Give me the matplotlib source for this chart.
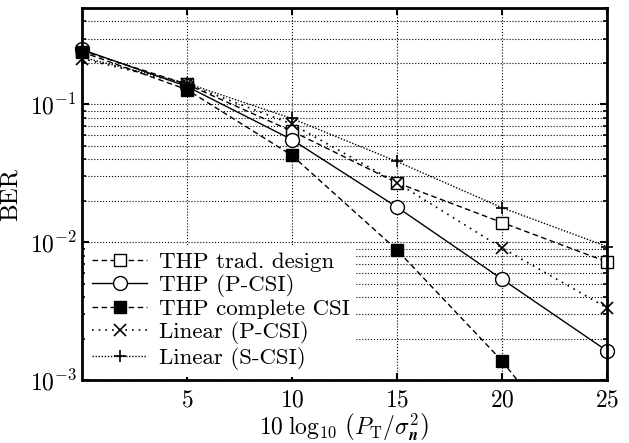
import matplotlib
matplotlib.use("Agg")
import matplotlib.pyplot as plt
from matplotlib import ticker
import numpy as np

plt.rcParams["font.family"] = ["cmr10", "DejaVu Serif"]
plt.rcParams["mathtext.fontset"] = "cm"
plt.rcParams["axes.formatter.use_mathtext"] = True

# SNR in dB
snr = [0, 5, 10, 15, 20, 25]

# BER curves
ber_thp_trad = [0.245, 0.140, 0.064, 0.027, 0.0139, 0.0072]
ber_thp_pcsi = [0.250, 0.135, 0.0555, 0.018, 0.0054, 0.00163]
ber_thp_full = [0.240, 0.128, 0.0427, 0.0088, 0.00138, 0.00015]
ber_lin_pcsi = [0.215, 0.140, 0.072, 0.027, 0.0091, 0.00334]
ber_lin_scsi = [0.220, 0.142, 0.079, 0.0385, 0.0178, 0.0093]

labels = ["THP trad. design", "THP (P-CSI)", "THP complete CSI",
          "Linear (P-CSI)", "Linear (S-CSI)"]

fig, ax = plt.subplots(figsize=(6.29, 4.43), dpi=100)
fig.subplots_adjust(left=0.13, right=0.965, top=0.982, bottom=0.142)

ms = 8
ax.plot(snr, ber_thp_trad, "k--", marker="s", mfc="white", ms=ms, lw=1,
        dashes=(4, 2.5), label=labels[0], clip_on=False)
ax.plot(snr, ber_thp_pcsi, "k-", marker="o", mfc="white", ms=ms + 2, lw=1,
        label=labels[1], clip_on=False)
ax.plot(snr[:5], ber_thp_full[:5], "k--", marker="s", mfc="black", ms=ms, lw=1,
        dashes=(4, 2.5), label=labels[2], clip_on=False)
# tail of the complete-CSI curve leaves the plot below 1e-3
ax.plot(snr[4:], ber_thp_full[4:], "k--", lw=1, dashes=(4, 2.5))
ax.plot(snr, ber_lin_pcsi, "k:", marker="x", ms=ms, mew=1.2, lw=1.2,
        dashes=(1, 3), label=labels[3], clip_on=False)
ax.plot(snr, ber_lin_scsi, "k:", marker="+", ms=ms + 1, mew=1.2, lw=1,
        dashes=(1, 1.2), label=labels[4], clip_on=False)

# Axes
ax.set_yscale("log")
ax.set_xlim(0, 25)
ax.set_ylim(1e-3, 0.5)
ax.set_xticks([5, 10, 15, 20, 25])
ax.yaxis.set_major_locator(ticker.LogLocator(base=10, numticks=10))
ax.yaxis.set_minor_locator(ticker.LogLocator(base=10, subs=np.arange(2, 10), numticks=20))
ax.yaxis.set_minor_formatter(ticker.NullFormatter())

ax.tick_params(which="both", direction="in", top=True, right=True, labelsize=17)
ax.tick_params(which="major", length=5, width=1.5)
ax.tick_params(which="minor", length=3, width=1.2)
ax.tick_params(axis="x", pad=7)

for s in ax.spines.values():
    s.set_linewidth(2)

# Grid
ax.grid(True, which="major", axis="both", color="black", ls=":", lw=0.8)
ax.grid(True, which="minor", axis="y", color="black", ls=":", lw=0.8)

ax.set_xlabel(r"$10\;\log_{10}\,\left(P_\mathrm{T}/\sigma_{\mathbfit{n}}^2\right)$",
              fontsize=17, labelpad=0)
ax.set_ylabel("BER", fontsize=18, labelpad=6)

leg = ax.legend(loc="lower left", fontsize=16.5, frameon=True, framealpha=1,
                edgecolor="white", handlelength=2.4, handletextpad=0.5,
                labelspacing=0.1, borderpad=0.3, borderaxespad=0.15)
leg.get_frame().set_linewidth(0)

plt.savefig("out.png", dpi=100)
